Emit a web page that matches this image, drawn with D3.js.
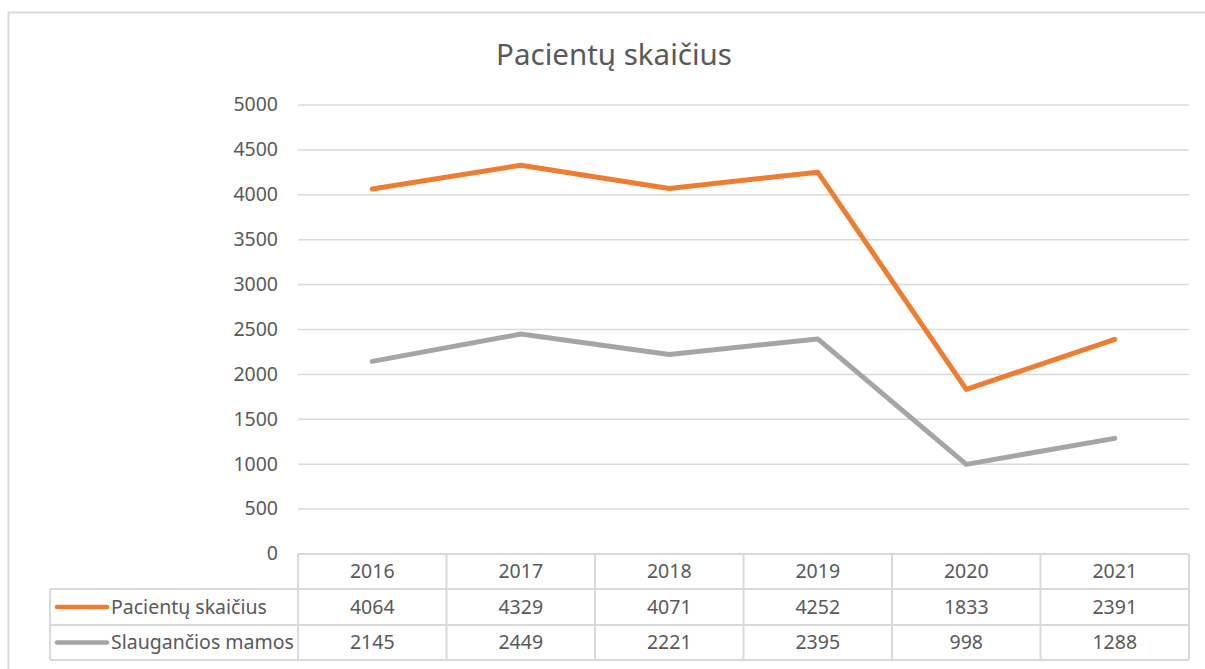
<!DOCTYPE html>
<html><head><meta charset="utf-8">
<script src="https://cdn.jsdelivr.net/npm/d3@7"></script>
<style>body{margin:0;background:#fff;}svg{display:block;font-family:"Noto Sans",sans-serif;}</style>
</head><body>
<svg id="c" width="1205" height="669"></svg>
<script>
const title = "Pacientų skaičius";
const years = ["2016","2017","2018","2019","2020","2021"];
const seriesNames = ["Pacientų skaičius","Slaugančios mamos"];
const pacientai = [4064,4329,4071,4252,1833,2391];
const mamos = [2145,2449,2221,2395,998,1288];
const colors = ["#ED7D31","#A5A5A5"];
const yTicks = [0,500,1000,1500,2000,2500,3000,3500,4000,4500,5000];

(function(){
const svg = d3.select("#c");
const pLeft=298,pRight=1189,pTop=105,pBottom=554;
const rowH=[35,36,35];
const txt="#595959", grid="#D9D9D9";
const fs=19.5;

svg.append("rect").attr("x",8.5).attr("y",12.5).attr("width",1300).attr("height",800)
  .attr("fill","#fff").attr("stroke","#D9D9D9").attr("stroke-width",2);

svg.append("text").attr("x",614).attr("y",65).attr("text-anchor","middle")
  .attr("font-size",29.5).attr("fill",txt).text(title);

const x = d3.scaleBand().domain(years).range([pLeft,pRight]);
const y = d3.scaleLinear().domain([0,5000]).range([pBottom,pTop]);

const yAxis = d3.axisLeft(y).tickValues(yTicks).tickSize(0).tickPadding(20).tickFormat(d3.format("d"));
const ga = svg.append("g").attr("transform",`translate(${pLeft},0)`).call(yAxis);
ga.select(".domain").remove();
ga.selectAll("text").attr("font-size",fs).attr("fill",txt).attr("font-family","Noto Sans").attr("dy","0.3em");

svg.append("g").selectAll("line").data(yTicks.filter(d=>d>0)).join("line")
  .attr("x1",pLeft).attr("x2",pRight).attr("y1",d=>y(d)).attr("y2",d=>y(d))
  .attr("stroke",grid).attr("stroke-width",1.5);

const tTop = pBottom;
const rowsY=[tTop, tTop+rowH[0], tTop+rowH[0]+rowH[1], tTop+rowH[0]+rowH[1]+rowH[2]];
const legLeft=50;
const tg = svg.append("g").attr("stroke",grid).attr("stroke-width",2);
tg.append("line").attr("x1",pLeft).attr("x2",pRight).attr("y1",rowsY[0]).attr("y2",rowsY[0]);
[1,2,3].forEach(i=>tg.append("line").attr("x1",legLeft).attr("x2",pRight).attr("y1",rowsY[i]).attr("y2",rowsY[i]));
years.forEach(yr=>tg.append("line").attr("x1",x(yr)).attr("x2",x(yr)).attr("y1",rowsY[0]).attr("y2",rowsY[3]));
tg.append("line").attr("x1",pRight).attr("x2",pRight).attr("y1",rowsY[0]).attr("y2",rowsY[3]);
tg.append("line").attr("x1",legLeft).attr("x2",legLeft).attr("y1",rowsY[1]).attr("y2",rowsY[3]);

svg.append("g").selectAll("text").data(years).join("text")
  .attr("x",d=>x(d)+x.bandwidth()/2).attr("y",(rowsY[0]+rowsY[1])/2).attr("dy","0.35em")
  .attr("text-anchor","middle").attr("font-size",fs).attr("fill",txt).text(d=>d);

const allSeries=[pacientai,mamos];
allSeries.forEach((vals,si)=>{
  const cy=(rowsY[si+1]+rowsY[si+2])/2;
  svg.append("g").selectAll("text").data(vals).join("text")
    .attr("x",(d,i)=>x(years[i])+x.bandwidth()/2).attr("y",cy).attr("dy","0.35em")
    .attr("text-anchor","middle").attr("font-size",fs).attr("fill",txt).text(d=>d);
  svg.append("line").attr("x1",57).attr("x2",107).attr("y1",cy).attr("y2",cy)
    .attr("stroke",colors[si]).attr("stroke-width",4.5).attr("stroke-linecap","round");
  svg.append("text").attr("x",111).attr("y",cy).attr("dy","0.35em")
    .attr("font-size",fs).attr("fill",txt).text(seriesNames[si]);
});

const line = d3.line().x((d,i)=>x(years[i])+x.bandwidth()/2).y(d=>y(d));
[mamos,pacientai].forEach((vals,k)=>{
  svg.append("path").datum(vals).attr("d",line).attr("fill","none")
    .attr("stroke",k===0?colors[1]:colors[0]).attr("stroke-width",5)
    .attr("stroke-linecap","round").attr("stroke-linejoin","round");
});
})();
</script>
</body></html>
